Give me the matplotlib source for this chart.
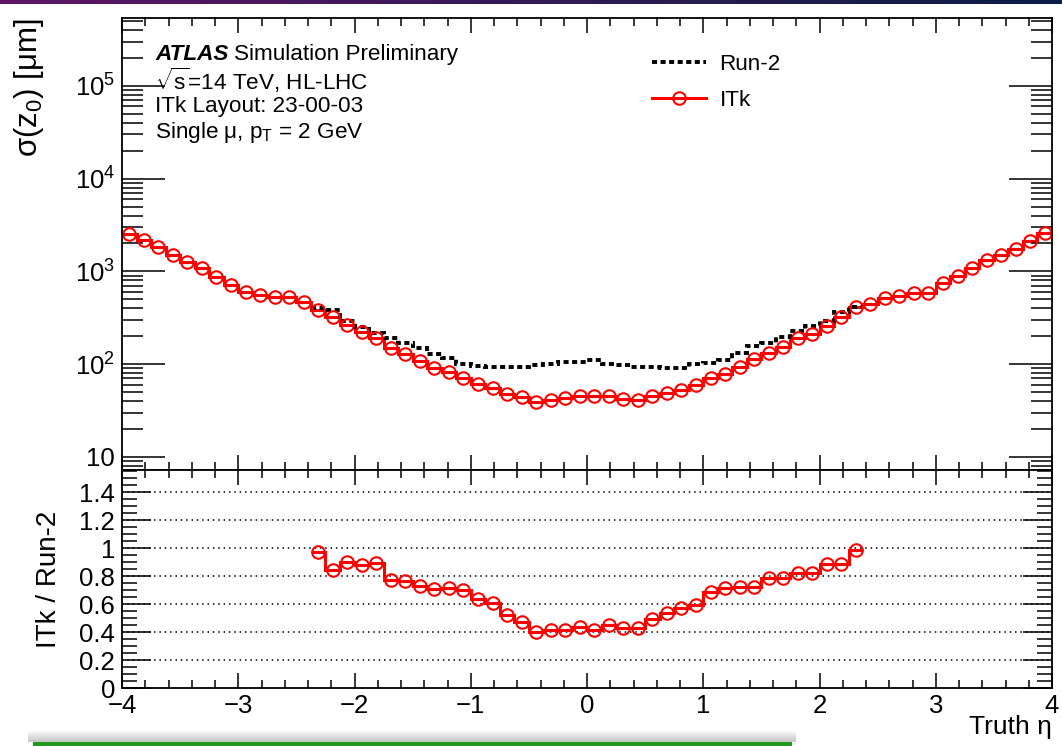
#!/usr/bin/env python3
# -*- coding: utf-8 -*-
"""
z0 resolution vs truth eta, ITk vs Run-2, with ratio panel
"""
import numpy as np
import matplotlib
matplotlib.use('Agg')
import matplotlib.pyplot as plt
from matplotlib.lines import Line2D
from matplotlib.patches import Rectangle
from matplotlib.ticker import MultipleLocator, LogLocator, FuncFormatter, NullFormatter

ETA_MIN = -4.0
ETA_MAX = 4.0
N_BINS = 64

# sigma(z0) [um], ITk, one value per eta bin (64 bins of 0.125)
itk = [2518, 2155, 1811, 1510, 1259, 1086, 861, 719, 600, 552, 525, 525, 468, 387, 320, 262,
       222, 192, 150, 129, 108, 91, 83, 70, 60.5, 55.7, 48, 44, 38.7, 40.7, 43.5, 45.3,
       45.3, 45.3, 41.7, 40.7, 45.3, 49.2, 52.2, 59.4, 70, 78.7, 93.5, 112, 132, 153, 189, 212,
       256, 320, 410, 445, 517, 539, 584, 584, 748, 884, 1086, 1336, 1486, 1754, 2137, 2582]

# Run-2 only covers bins 13..50 (|eta| < 2.375)
RUN2_FIRST = 13
run2 = [399, 379, 291, 251, 215, 193, 169, 148, 128, 115, 100, 95, 92, 92, 93, 97, 99, 105, 104,
        110, 101, 97, 94, 92, 91, 91, 100, 102, 110, 130, 155, 168, 194, 230, 257, 288, 360, 414]

# ITk / Run-2
ratio = [0.97, 0.845, 0.90, 0.883, 0.895, 0.776, 0.764, 0.729, 0.712, 0.719, 0.702, 0.638, 0.607,
         0.524, 0.471, 0.40, 0.412, 0.412, 0.436, 0.412, 0.448, 0.431, 0.431, 0.495, 0.538, 0.571,
         0.595, 0.686, 0.717, 0.721, 0.721, 0.788, 0.788, 0.821, 0.824, 0.888, 0.888, 0.99]

info_lines = [r"$\sqrt{\mathrm{s}}$=14 TeV, HL-LHC", "ITk Layout: 23-00-03",
              r"Single μ, p$_{\mathrm{T}}$ = 2 GeV"]

RED = '#ff0000'
W, H = 1062, 746
TXT = 16.2


def style_ticks(ax, major_len, minor_len):
    ax.tick_params(which='both', direction='in', top=True, right=True, labelsize=18.5)
    ax.tick_params(which='major', length=major_len, width=1.1)
    ax.tick_params(which='minor', length=minor_len, width=1.1)
    for s in ax.spines.values():
        s.set_linewidth(1.3)


def log_label(v, pos):
    n = int(round(np.log10(v)))
    if n == 1:
        return "10"
    return r"$10^{%d}$" % n


def decorations(fig):
    # slide bar on top
    bar = fig.add_axes([0, 1 - 4 / H, 1, 4 / H])
    c0 = np.array([0x5e, 0x16, 0x66]) / 255.
    c1 = np.array([0x0a, 0x1e, 0x44]) / 255.
    t = np.linspace(0, 1, 256)[None, :, None]
    bar.imshow(c0 * (1 - t) + c1 * t, aspect='auto', extent=[0, 1, 0, 1])
    bar.set_axis_off()
    # shadow + green bar at bottom
    sh = fig.add_axes([28 / W, 4 / H, (796 - 28) / W, 12 / H])
    a = np.linspace(0.0, 0.35, 32)[:, None]
    img = np.zeros((32, 1, 4))
    img[..., 0:3] = 0.35
    img[..., 3] = a
    sh.imshow(img, aspect='auto', extent=[0, 1, 0, 1], origin='upper')
    sh.set_axis_off()
    fig.patches.append(Rectangle((33 / W, 0), (792 - 33) / W, 4 / H, transform=fig.transFigure,
                                 facecolor='#1f9a1f', edgecolor='none'))


def main():
    plt.rcParams['font.family'] = ['Liberation Sans', 'DejaVu Sans']
    plt.rcParams['mathtext.fontset'] = 'custom'
    plt.rcParams['mathtext.rm'] = 'Liberation Sans'
    plt.rcParams['mathtext.it'] = 'Liberation Sans:italic'
    plt.rcParams['mathtext.bf'] = 'Liberation Sans:bold'

    edges = np.linspace(ETA_MIN, ETA_MAX, N_BINS + 1)
    centers = 0.5 * (edges[1:] + edges[:-1])
    r_edges = edges[RUN2_FIRST:RUN2_FIRST + len(run2) + 1]
    r_centers = centers[RUN2_FIRST:RUN2_FIRST + len(run2)]

    fig = plt.figure(figsize=(W / 100, H / 100), dpi=100)
    left, right = 122 / W, 1052 / W
    y_top, y_mid, y_bot = 1 - 18 / H, 1 - 470 / H, 1 - 688 / H
    ax1 = fig.add_axes([left, y_mid, right - left, y_top - y_mid])
    ax2 = fig.add_axes([left, y_bot, right - left, y_mid - y_bot], sharex=ax1)

    # top panel
    ax1.stairs(itk, edges, baseline=None, color=RED, lw=2.2)
    ax1.plot(centers, itk, 'o', ms=9, mfc='none', mec=RED, mew=1.5)
    ax1.stairs(run2, r_edges, baseline=None, color='k', lw=2.8, ls=(0, (1.3, 0.9)))
    ax1.set_yscale('log')
    ax1.set_ylim(7.2, 5.4e5)
    ax1.set_xlim(ETA_MIN, ETA_MAX)
    ax1.yaxis.set_major_locator(LogLocator(base=10, numticks=10))
    ax1.yaxis.set_minor_locator(LogLocator(base=10, subs=np.arange(2, 10), numticks=20))
    ax1.yaxis.set_major_formatter(FuncFormatter(log_label))
    ax1.yaxis.set_minor_formatter(NullFormatter())
    ax1.xaxis.set_major_locator(MultipleLocator(1))
    ax1.xaxis.set_minor_locator(MultipleLocator(0.2))
    style_ticks(ax1, 11, 6)
    ax1.tick_params(axis='y', which='major', length=31, pad=5)
    ax1.tick_params(axis='y', which='minor', length=15)
    ax1.tick_params(axis='x', labelbottom=False)
    ax1.set_ylabel(r"σ(z$_0$) [μm]", fontsize=22.5, loc='top')
    ax1.yaxis.set_label_coords(-0.082, 1.0)

    y0 = 0.92
    dy = 0.0575
    ax1.text(0.0355, y0, "ATLAS", transform=ax1.transAxes, fontsize=TXT,
             fontweight='bold', style='italic', va='center')
    ax1.text(0.1205, y0, "Simulation Preliminary", transform=ax1.transAxes, fontsize=TXT,
             va='center')
    for i, line in enumerate(info_lines):
        ax1.text(0.0355, y0 - (i + 1) * dy, line, transform=ax1.transAxes,
                 fontsize=TXT, va='center')

    handles = [Line2D([], [], color='k', lw=2.8, ls=(0, (1.3, 0.9))),
               Line2D([], [], color=RED, lw=2.2, marker='o', ms=9, mfc='none', mec=RED, mew=1.5)]
    ax1.legend(handles, ["Run-2", "ITk"], loc='upper left', bbox_to_anchor=(0.570, 0.92),
               frameon=False, fontsize=TXT, handlelength=2.4, handletextpad=0.6,
               labelspacing=0.65, borderpad=0, borderaxespad=0, numpoints=1)

    # ratio panel
    ax2.stairs(ratio, r_edges, baseline=None, color=RED, lw=2.2)
    ax2.plot(r_centers, ratio, 'o', ms=9, mfc='none', mec=RED, mew=1.5)
    ax2.set_ylim(0, 1.56)
    ax2.set_xlim(ETA_MIN, ETA_MAX)
    ax2.yaxis.set_major_locator(MultipleLocator(0.2))
    ax2.yaxis.set_minor_locator(MultipleLocator(0.05))
    ax2.yaxis.set_major_formatter(FuncFormatter(lambda v, p: "%g" % round(v, 2)))
    for g in np.arange(0.2, 1.41, 0.2):
        ax2.axhline(g, color='k', lw=1.1, ls=(0, (1, 2.5)), zorder=0)
    style_ticks(ax2, 11, 6)
    ax2.tick_params(axis='y', which='major', length=21, pad=5)
    ax2.tick_params(axis='y', which='minor', length=11)
    ax2.tick_params(axis='x', which='major', pad=4)
    ax2.set_ylabel("ITk / Run-2", fontsize=20)
    ax2.yaxis.set_label_coords(-0.065, 0.5)
    ax2.set_xlabel("Truth η", fontsize=19, loc='right')
    ax2.xaxis.set_label_coords(1.0, -0.124)

    decorations(fig)
    plt.savefig('out.png', dpi=100)


if __name__ == '__main__':
    main()
